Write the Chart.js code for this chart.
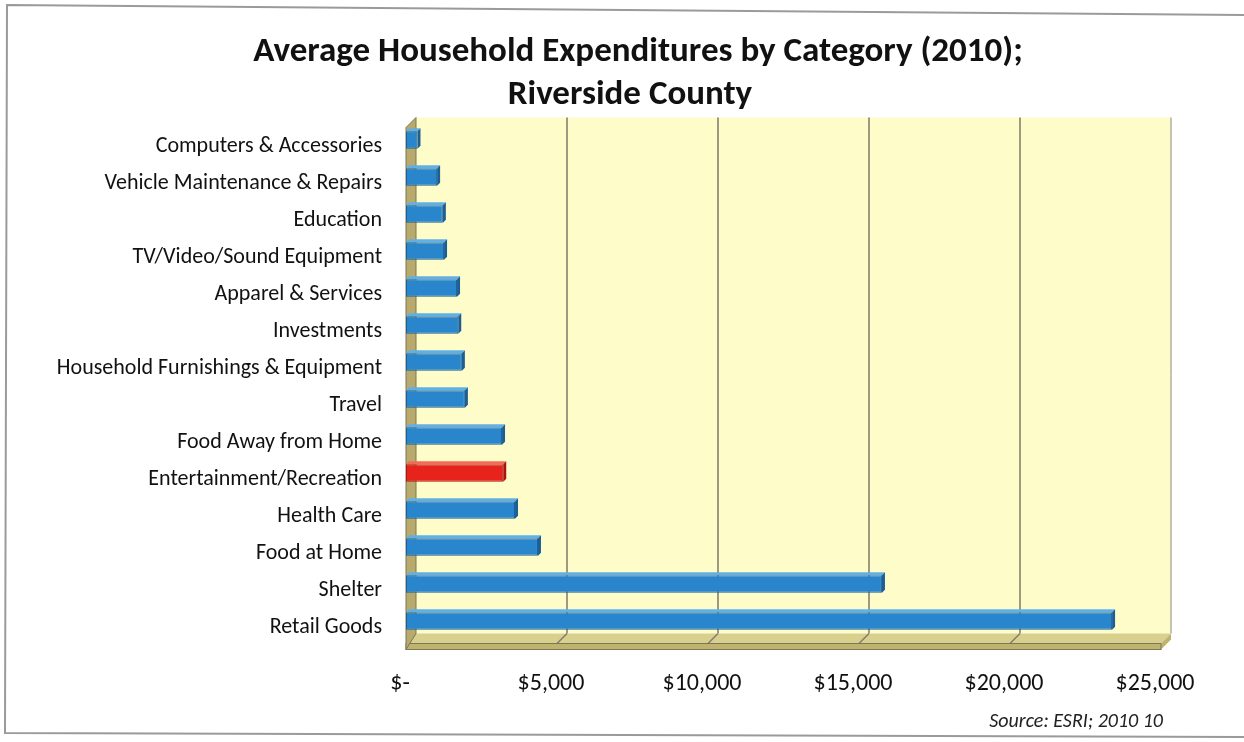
<!DOCTYPE html>
<html>
<head>
<meta charset="utf-8">
<title>Average Household Expenditures by Category (2010); Riverside County</title>
<script src="https://cdn.jsdelivr.net/npm/chart.js@4/dist/chart.umd.min.js"></script>
<style>
  html, body { margin: 0; padding: 0; background: #ffffff; }
  #wrap { position: relative; width: 1244px; height: 742px; }
  canvas { display: block; }
</style>
</head>
<body>
<div id="wrap"><canvas id="chart" width="1244" height="742"></canvas></div>
<script>
// Expenditure categories, listed top to bottom
const categories = [
  'Computers & Accessories',
  'Vehicle Maintenance & Repairs',
  'Education',
  'TV/Video/Sound Equipment',
  'Apparel & Services',
  'Investments',
  'Household Furnishings & Equipment',
  'Travel',
  'Food Away from Home',
  'Entertainment/Recreation',
  'Health Care',
  'Food at Home',
  'Shelter',
  'Retail Goods'
];

// Average annual household spending, US dollars
const spending = [380, 1030, 1220, 1260, 1690, 1730, 1850, 1950, 3180, 3220, 3610, 4370, 15760, 23380];

// Category highlighted in red
const highlighted = ['Entertainment/Recreation'];

// Value axis ticks
const axisTicks = [0, 5000, 10000, 15000, 20000, 25000];

const titleLines = ['Average Household Expenditures by Category (2010);', 'Riverside County'];
const sourceNote = 'Source: ESRI; 2010 10';

const FONT = "Carlito, Lato, 'Open Sans', sans-serif";
const BLUE = '#2a86cc', BLUE_TOP = '#5fb0e6', BLUE_SIDE = '#1b5e98', BLUE_EDGE = '#1d5f93';
const RED = '#e8231c', RED_TOP = '#f26a5a', RED_SIDE = '#a8150f', RED_EDGE = '#a51a12';

const fill = categories.map(c => highlighted.includes(c) ? RED : BLUE);
const edge = categories.map(c => highlighted.includes(c) ? RED_EDGE : BLUE_EDGE);

// depth of the 3-D box (back plane is shifted right and up)
const DX = 10, DY = 10;

function money(v) {
  return v === 0 ? '$-' : '$' + v.toLocaleString('en-US');
}

// Draws the back wall, side wall, floor and grid lines behind the bars,
// the 3-D faces of the bars, then the title, frame and source note
const wallsPlugin = {
  id: 'walls',
  beforeDatasetsDraw(chart) {
    const { ctx, chartArea: a, scales: { x } } = chart;
    const fTop = a.top + 6, fBot = a.bottom + 4;
    const x0 = x.getPixelForValue(0), x1 = x.getPixelForValue(25000);
    ctx.save();

    // back wall
    ctx.fillStyle = '#fefdca';
    ctx.fillRect(x0 + DX, fTop - DY, x1 - x0, fBot - fTop);
    ctx.strokeStyle = '#8a8a80';
    ctx.lineWidth = 1;
    ctx.beginPath();
    ctx.moveTo(x1 + DX, fTop - DY);
    ctx.lineTo(x1 + DX, fBot - DY);
    ctx.stroke();

    // grid lines on the back wall
    ctx.strokeStyle = '#85806e';
    ctx.lineWidth = 1.6;
    axisTicks.slice(1, -1).forEach(v => {
      const px = x.getPixelForValue(v);
      ctx.beginPath();
      ctx.moveTo(px + DX, fTop - DY);
      ctx.lineTo(px + DX, fBot - DY);
      ctx.stroke();
    });

    // floor top surface
    ctx.fillStyle = '#d9d08e';
    ctx.beginPath();
    ctx.moveTo(x0 + DX, fBot - DY);
    ctx.lineTo(x1 + DX, fBot - DY);
    ctx.lineTo(x1, fBot);
    ctx.lineTo(x0, fBot);
    ctx.closePath();
    ctx.fill();
    // grid lines across the floor
    ctx.strokeStyle = '#85806e';
    axisTicks.slice(1, -1).forEach(v => {
      const px = x.getPixelForValue(v);
      ctx.beginPath();
      ctx.moveTo(px + DX, fBot - DY);
      ctx.lineTo(px, fBot);
      ctx.stroke();
    });
    // floor front and side faces
    ctx.fillStyle = '#bfb46e';
    ctx.fillRect(x0, fBot, x1 - x0, 6);
    ctx.beginPath();
    ctx.moveTo(x1, fBot);
    ctx.lineTo(x1 + DX, fBot - DY);
    ctx.lineTo(x1 + DX, fBot - DY + 6);
    ctx.lineTo(x1, fBot + 6);
    ctx.closePath();
    ctx.fill();
    ctx.strokeStyle = '#7d7658';
    ctx.lineWidth = 1;
    ctx.strokeRect(x0, fBot, x1 - x0, 6);

    // left side wall
    ctx.fillStyle = '#b7aa6c';
    ctx.beginPath();
    ctx.moveTo(x0, fTop);
    ctx.lineTo(x0 + DX, fTop - DY);
    ctx.lineTo(x0 + DX, fBot - DY);
    ctx.lineTo(x0, fBot + 6);
    ctx.closePath();
    ctx.fill();
    ctx.strokeStyle = '#7d7658';
    ctx.stroke();

    ctx.restore();
  },
  // 3-D top and side faces of every bar
  afterDatasetsDraw(chart) {
    const { ctx } = chart;
    const meta = chart.getDatasetMeta(0);
    const d = 3;
    ctx.save();
    meta.data.forEach((bar, i) => {
      const p = bar.getProps(['x', 'y', 'base', 'height'], true);
      const top = p.y - p.height / 2, bot = p.y + p.height / 2;
      const red = highlighted.includes(categories[i]);
      // top face
      ctx.fillStyle = red ? RED_TOP : BLUE_TOP;
      ctx.beginPath();
      ctx.moveTo(p.base, top);
      ctx.lineTo(p.base + d, top - d);
      ctx.lineTo(p.x + d, top - d);
      ctx.lineTo(p.x, top);
      ctx.closePath();
      ctx.fill();
      // side face
      ctx.fillStyle = red ? RED_SIDE : BLUE_SIDE;
      ctx.beginPath();
      ctx.moveTo(p.x, top);
      ctx.lineTo(p.x + d, top - d);
      ctx.lineTo(p.x + d, bot - d);
      ctx.lineTo(p.x, bot);
      ctx.closePath();
      ctx.fill();
    });
    ctx.restore();
  },
  afterDraw(chart) {
    const { ctx } = chart;
    ctx.save();
    // page frame
    ctx.strokeStyle = '#9a9a9a';
    ctx.lineWidth = 2;
    ctx.beginPath();
    ctx.moveTo(1244, 15);
    ctx.lineTo(7, 5);
    ctx.lineTo(5, 733);
    ctx.lineTo(1244, 737);
    ctx.stroke();

    // title
    ctx.fillStyle = '#111111';
    ctx.textAlign = 'center';
    ctx.textBaseline = 'middle';
    ctx.font = "bold 35px " + FONT;
    ctx.fillText(titleLines[0], 638, 52);
    ctx.fillText(titleLines[1], 630, 95);

    // source note
    ctx.fillStyle = '#222222';
    ctx.font = "italic 20px " + FONT;
    ctx.textAlign = 'right';
    ctx.fillText(sourceNote, 1163, 722);
    ctx.restore();
  }
};

new Chart(document.getElementById('chart'), {
  type: 'bar',
  data: {
    labels: categories,
    datasets: [{
      data: spending,
      backgroundColor: fill,
      borderColor: edge,
      borderWidth: 1,
      borderSkipped: false,
      barPercentage: 0.47,
      categoryPercentage: 1
    }]
  },
  options: {
    indexAxis: 'y',
    responsive: false,
    animation: false,
    layout: { padding: { left: 6, right: 83, top: 121.5, bottom: 0 } },
    plugins: {
      legend: { display: false },
      tooltip: { enabled: false },
      title: { display: false }
    },
    scales: {
      x: {
        min: 0,
        max: 25000,
        grid: { display: false, drawTicks: false },
        border: { display: false },
        afterBuildTicks(scale) { scale.ticks = axisTicks.map(v => ({ value: v })); },
        afterFit(scale) { scale.height = 102.5; },
        ticks: {
          color: '#111111',
          font: { family: FONT, size: 24 },
          padding: 30,
          labelOffset: -6,
          maxRotation: 0,
          autoSkip: false,
          callback: v => money(v)
        }
      },
      y: {
        grid: { display: false, drawTicks: false },
        border: { display: false },
        afterFit(scale) { scale.width = 400; },
        ticks: {
          color: '#111111',
          font: { family: FONT, size: 22 },
          padding: 24,
          labelOffset: 6,
          autoSkip: false
        }
      }
    }
  },
  plugins: [wallsPlugin]
});
</script>
</body>
</html>
